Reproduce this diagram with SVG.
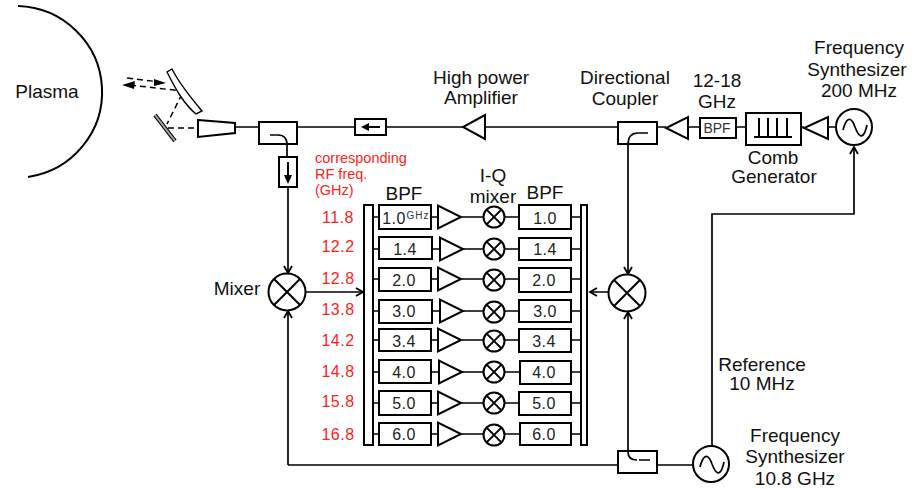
<svg xmlns="http://www.w3.org/2000/svg" width="912" height="489" viewBox="0 0 912 489">
<style>
text{font-family:"Liberation Sans",Arial,sans-serif;fill:#111;font-size:19px;text-anchor:middle}
.r{fill:#f22;font-size:16px;letter-spacing:.5px}
.c{fill:#f22;font-size:14.5px;text-anchor:start}
.v{font-size:16px;fill:#222;letter-spacing:.5px}
.s{fill:#fff;stroke:#000;stroke-width:2}
.t{fill:#fff;stroke:#000;stroke-width:2}
.l{fill:none;stroke:#000;stroke-width:1.7}
.h{fill:none;stroke:#000;stroke-width:2}
.d{fill:none;stroke:#000;stroke-width:1.5;stroke-dasharray:6 4}
</style>
<defs>
<g id="mx"><circle r="10.5" class="s"/><path d="M-7.4-7.4 7.4 7.4M7.4-7.4-7.4 7.4" class="h"/></g>
<g id="mxb"><circle r="18.5" class="s"/><path d="M-13-13 13 13M13-13-13 13" class="h"/></g>
<g id="amp"><path d="M0-11.5V11.5L23 0Z" class="t"/></g>
<path id="chev" d="M-4-7 0 0 4-7" fill="none" stroke="#000" stroke-width="1.8"/>
</defs>
<rect width="912" height="489" fill="#fff"/>
<g id="plasma"><path d="M18 6A87 86 0 0 1 28 177" fill="none" stroke="#000" stroke-width="2"/><text x="47" y="98">Plasma</text></g>
<g id="connectors">
<path class="l" d="M236 127H259M297 127H355M386 127H463M485 127H618M657 127H666M688 127H700M736 127H746M801 127H804M828 127H836"/>
<path class="l" d="M270 135H278Q287 135 287 145V157M288 187V273M648 133H638Q628 133 628 145V274M628 452Q628 460 637 460M639 460H650M628 452V312M288 465V311M288 465H618M657 465H693M306 292H362M610 292H590"/>
<path class="l" d="M854 147V214H712V446"/>
<use href="#chev" transform="translate(288 273)"/>
<use href="#chev" transform="translate(288 311) rotate(180)"/>
<use href="#chev" transform="translate(628 274)"/>
<use href="#chev" transform="translate(628 312) rotate(180)"/>
<use href="#chev" transform="translate(363 292) rotate(-90)"/>
<use href="#chev" transform="translate(590 292) rotate(90)"/>
<use href="#chev" transform="translate(854 147) rotate(180)"/>
<path d="M154 79 166 83 154 86ZM122 85 135 81 134 89Z"/>
<path class="d" d="M127 78 160 82M130 85 182 91M182 94 167 124M168 128H198"/>
</g>
<g id="mirror1"><path d="M167 72 172 69C180 85 192 99 202 111L196 114C184 104 176 90 167 72Z" fill="#fff" stroke="#000" stroke-width="1.4"/></g>
<g id="mirror2"><path d="M155 115 175 141" stroke="#000" stroke-width="4"/><path d="M155 115 175 141" stroke="#aaa" stroke-width="2"/></g>
<g id="horn"><path d="M198 120 235 123V133L198 137Z" class="s"/></g>
<g id="coupler1"><rect x="259" y="122" width="38" height="22" fill="none" stroke="#000" stroke-width="2"/></g>
<g id="iso-down"><rect x="279" y="157" width="18" height="30" class="s"/><path d="M288 162V176" class="h"/><path d="M288 184 284 175H292Z"/></g>
<g id="iso"><rect x="355" y="119" width="31" height="16" class="s"/><path d="M380 127H367" class="h"/><path d="M361 127 369 123V131Z"/></g>
<g id="hpa"><path d="M485 115V139L463 127Z" class="t"/><text x="481" y="84">High power</text><text x="481" y="104">Amplifier</text></g>
<g id="coupler2"><rect x="618" y="122" width="39" height="22" fill="none" stroke="#000" stroke-width="2"/><text x="625" y="84">Directional</text><text x="625" y="105">Coupler</text></g>
<g id="amp2"><path d="M688 117V139L666 128Z" class="t"/></g>
<g id="bpf-top"><rect x="700" y="118" width="36" height="20" class="s"/><text x="717" y="133" style="font-size:14px;fill:#333">BPF</text><text x="717" y="87">12-18</text><text x="717" y="108">GHz</text></g>
<g id="comb"><rect x="746" y="113" width="55" height="32" class="s"/><path d="M754 137H792M759 137V118M768 137V118M777 137V118M787 137V118" class="h"/><text x="773" y="164">Comb</text><text x="774" y="183">Generator</text></g>
<g id="amp3"><path d="M828 117V139L804 128Z" class="t"/></g>
<g id="synth1"><circle cx="854" cy="127" r="18" class="s"/><path d="M843 130C848 112 853 121 855 127C858 135 863 143 867 125" class="l"/><text x="859" y="54">Frequency</text><text x="857" y="76">Synthesizer</text><text x="859" y="97">200 MHz</text></g>
<g id="synth2"><circle cx="711" cy="464" r="18" class="s"/><path d="M700 467C705 449 710 458 712 464C715 472 720 480 724 462" class="l"/><text x="795" y="442">Frequency</text><text x="795" y="463">Synthesizer</text><text x="795" y="485">10.8 GHz</text></g>
<g id="coupler3"><rect x="618" y="451" width="39" height="22" fill="none" stroke="#000" stroke-width="2"/></g>
<g id="mixer-l"><use href="#mxb" transform="translate(287 292)"/><text x="237" y="295">Mixer</text></g>
<g id="mixer-r"><use href="#mxb" transform="translate(627 293)"/></g>
<g id="ref"><text x="762" y="371">Reference</text><text x="762" y="390">10 MHz</text></g>
<g id="labels"><text class="c" x="315" y="163">corresponding</text><text class="c" x="315" y="179">RF freq.</text><text class="c" x="315" y="195">(GHz)</text>
<text x="404" y="200">BPF</text><text x="493" y="182">I-Q</text><text x="493" y="203">mixer</text><text x="545" y="199">BPF</text></g>
<g id="rails"><rect x="364" y="205" width="9" height="240" class="t"/><rect x="581" y="205" width="6" height="240" class="t"/></g>
<g id="row1"><path class="l" d="M373 217H380M432 217H438M462 217H484M504 217H519M571 217H581"/><rect x="379" y="205" width="52" height="24" class="s"/><text class="v" x="394" y="224">1.0</text><text x="418" y="219" style="font-size:10px;fill:#333;letter-spacing:1px">GHz</text><use href="#amp" transform="translate(438 217)"/><use href="#mx" transform="translate(494 217)"/><rect x="519" y="205" width="52" height="24" class="s"/><text class="v" x="545" y="224">1.0</text></g>
<g id="row2"><path class="l" d="M373 249H380M432 249H440M462 249H484M504 249H519M571 249H581"/><rect x="379" y="237" width="53" height="22" class="s"/><text class="v" x="405" y="255">1.4</text><use href="#amp" transform="translate(440 249)"/><use href="#mx" transform="translate(494 249)"/><rect x="519" y="238" width="52" height="22" class="s"/><text class="v" x="545" y="255">1.4</text></g>
<g id="row3"><path class="l" d="M373 279H380M432 279H438M462 279H484M504 279H519M571 279H581"/><rect x="379" y="268" width="52" height="23" class="s"/><text class="v" x="404" y="286">2.0</text><use href="#amp" transform="translate(438 279)"/><use href="#mx" transform="translate(494 280)"/><rect x="519" y="268" width="52" height="24" class="s"/><text class="v" x="544" y="286">2.0</text></g>
<g id="row4"><path class="l" d="M373 311H380M432 311H440M462 311H484M504 311H519M571 311H581"/><rect x="379" y="300" width="53" height="23" class="s"/><text class="v" x="404" y="317">3.0</text><use href="#amp" transform="translate(440 311)"/><use href="#mx" transform="translate(494 312)"/><rect x="519" y="300" width="52" height="22" class="s"/><text class="v" x="545" y="317">3.0</text></g>
<g id="row5"><path class="l" d="M373 340H380M432 340H438M462 340H484M504 340H519M571 340H581"/><rect x="379" y="329" width="52" height="22" class="s"/><text class="v" x="404" y="347">3.4</text><use href="#amp" transform="translate(438 340)"/><use href="#mx" transform="translate(494 341)"/><rect x="519" y="329" width="52" height="23" class="s"/><text class="v" x="544" y="347">3.4</text></g>
<g id="row6"><path class="l" d="M373 372H380M432 372H438M462 372H484M504 372H519M571 372H581"/><rect x="379" y="360" width="52" height="23" class="s"/><text class="v" x="404" y="378">4.0</text><use href="#amp" transform="translate(439 372)"/><use href="#mx" transform="translate(494 372)"/><rect x="520" y="361" width="51" height="23" class="s"/><text class="v" x="544" y="378">4.0</text></g>
<g id="row7"><path class="l" d="M373 403H380M432 403H438M462 403H484M504 403H519M571 403H581"/><rect x="379" y="391" width="52" height="24" class="s"/><text class="v" x="404" y="409">5.0</text><use href="#amp" transform="translate(438 403)"/><use href="#mx" transform="translate(494 403)"/><rect x="519" y="392" width="52" height="23" class="s"/><text class="v" x="544" y="409">5.0</text></g>
<g id="row8"><path class="l" d="M373 434H380M432 434H438M462 434H484M504 434H519M571 434H581"/><rect x="379" y="423" width="52" height="22" class="s"/><text class="v" x="404" y="440">6.0</text><use href="#amp" transform="translate(438 434)"/><use href="#mx" transform="translate(494 435)"/><rect x="520" y="423" width="51" height="22" class="s"/><text class="v" x="544" y="440">6.0</text></g>
<g id="rf"><text class="r" x="338" y="223">11.8</text><text class="r" x="338" y="252">12.2</text><text class="r" x="338" y="284">12.8</text><text class="r" x="338" y="315">13.8</text><text class="r" x="338" y="346">14.2</text><text class="r" x="338" y="377">14.8</text><text class="r" x="338" y="407">15.8</text><text class="r" x="338" y="440">16.8</text></g>
</svg>
